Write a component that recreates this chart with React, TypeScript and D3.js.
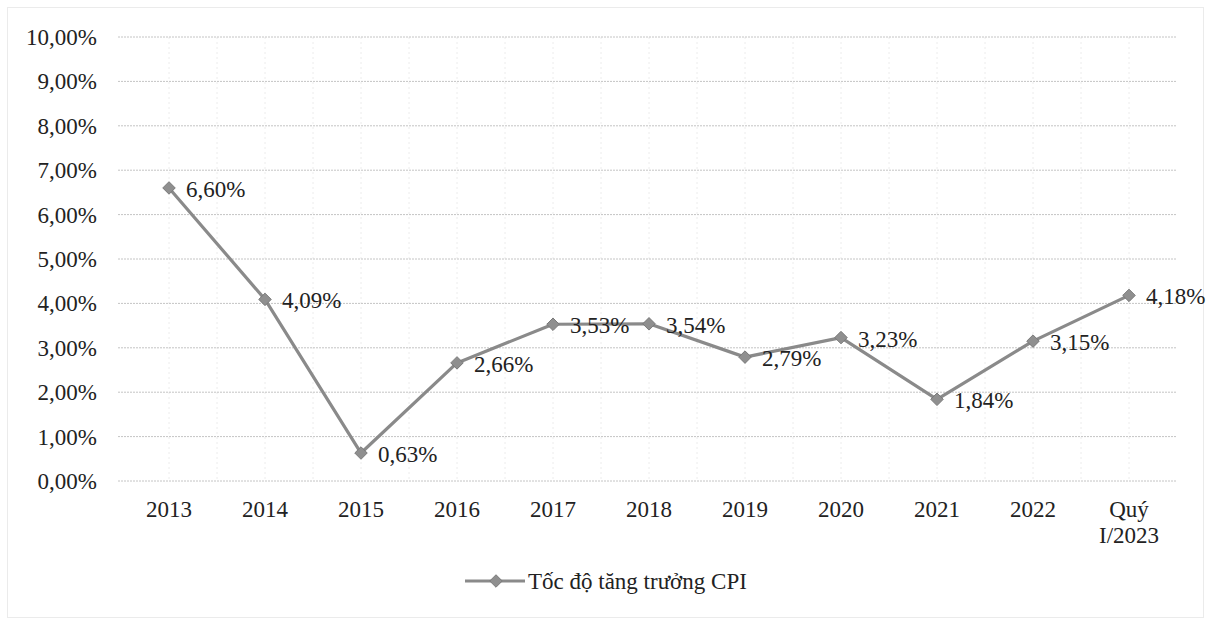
import React, { useRef, useEffect } from 'react';
import * as d3 from 'd3';

// Danh mục và giá trị (%)
const categories = ['2013', '2014', '2015', '2016', '2017', '2018', '2019', '2020', '2021', '2022', 'Quý\nI/2023'];
const cpiGrowth = [6.60, 4.09, 0.63, 2.66, 3.53, 3.54, 2.79, 3.23, 1.84, 3.15, 4.18];
const yTicks = [0, 1, 2, 3, 4, 5, 6, 7, 8, 9, 10];
const seriesName = 'Tốc độ tăng trưởng CPI';

const fmt = (v: number) => v.toFixed(2).replace('.', ',') + '%';

const App = () => {
    const svgRef = useRef<SVGSVGElement>(null);

    useEffect(() => {
        const svg = d3.select(svgRef.current);
        svg.selectAll('*').remove();

        const W = 1206, H = 619;
        const margin = { top: 37, right: 29, bottom: 138, left: 121 };
        const lineColor = '#8a8a8a';

        svg.append('rect')
            .attr('width', W).attr('height', H)
            .attr('fill', '#fff');

        // khung ngoài
        svg.append('rect')
            .attr('x', 7.5).attr('y', 7.5)
            .attr('width', 1196).attr('height', 610)
            .attr('fill', 'none')
            .attr('stroke', '#d6d6d6')
            .attr('stroke-dasharray', '1,1');

        const x = d3.scaleBand()
            .domain(categories)
            .range([margin.left, W - margin.right])
            .padding(0);

        const y = d3.scaleLinear()
            .domain([0, 10])
            .range([H - margin.bottom, margin.top]);

        const cx = (c: string) => (x(c) as number) + x.bandwidth() / 2;

        // đường lưới dọc (rất mờ)
        const vLines: number[] = [];
        categories.forEach(c => { vLines.push(cx(c)); vLines.push((x(c) as number) + x.bandwidth()); });
        svg.append('g').selectAll('line')
            .data(vLines.slice(0, -1))
            .join('line')
            .attr('x1', d => d).attr('x2', d => d)
            .attr('y1', y(10)).attr('y2', y(0))
            .attr('stroke', '#ececec')
            .attr('stroke-dasharray', '2,3');

        // đường lưới ngang
        svg.append('g').selectAll('line')
            .data(yTicks)
            .join('line')
            .attr('x1', margin.left - 3).attr('x2', W - margin.right)
            .attr('y1', d => y(d)).attr('y2', d => y(d))
            .attr('stroke', '#c4c4c4')
            .attr('stroke-width', 1)
            .attr('stroke-dasharray', '2,1');

        // nhãn trục Y
        svg.append('g').selectAll('text')
            .data(yTicks)
            .join('text')
            .attr('x', 97)
            .attr('y', d => y(d) + 8)
            .attr('text-anchor', 'end')
            .attr('font-size', 23)
            .attr('fill', '#222')
            .text(d => fmt(d));

        // nhãn trục X
        const xl = svg.append('g').selectAll('text')
            .data(categories)
            .join('text')
            .attr('x', d => cx(d))
            .attr('y', 517)
            .attr('text-anchor', 'middle')
            .attr('font-size', 23)
            .attr('fill', '#222');
        xl.each(function (d) {
            const parts = d.split('\n');
            const t = d3.select(this);
            parts.forEach((p, i) => {
                t.append('tspan')
                    .attr('x', cx(d))
                    .attr('dy', i === 0 ? 0 : 26)
                    .text(p);
            });
        });

        const pts = categories.map((c, i) => ({ c, v: cpiGrowth[i] }));

        const line = d3.line<{ c: string; v: number }>()
            .x(d => cx(d.c))
            .y(d => y(d.v));

        svg.append('path')
            .datum(pts)
            .attr('fill', 'none')
            .attr('stroke', lineColor)
            .attr('stroke-width', 3.2)
            .attr('stroke-linejoin', 'round')
            .attr('d', line);

        const diamond = d3.symbol().type(d3.symbolDiamond2).size(100);

        svg.append('g').selectAll('path')
            .data(pts)
            .join('path')
            .attr('transform', d => `translate(${cx(d.c)},${y(d.v)})`)
            .attr('d', diamond)
            .attr('fill', '#8f8f8f')
            .attr('stroke', '#7a7a7a')
            .attr('stroke-width', 1);

        // nhãn dữ liệu
        svg.append('g').selectAll('text')
            .data(pts)
            .join('text')
            .attr('x', d => cx(d.c) + 17)
            .attr('y', d => y(d.v) + 9)
            .attr('font-size', 23)
            .attr('fill', '#222')
            .text(d => fmt(d.v));

        // chú giải
        const lg = svg.append('g');
        lg.append('line')
            .attr('x1', 465).attr('x2', 525)
            .attr('y1', 581).attr('y2', 581)
            .attr('stroke', lineColor)
            .attr('stroke-width', 3.2);
        lg.append('path')
            .attr('transform', 'translate(496,581)')
            .attr('d', diamond)
            .attr('fill', '#8f8f8f')
            .attr('stroke', '#7a7a7a');
        lg.append('text')
            .attr('x', 528)
            .attr('y', 589)
            .attr('font-size', 23)
            .attr('fill', '#222')
            .text(seriesName);
    }, []);

    return (
        <svg ref={svgRef} width={1206} height={619}
            style={{ position: 'absolute', left: 0, top: 0, fontFamily: '"Liberation Serif", "Times New Roman", serif' }}></svg>
    );
};

export default App;
